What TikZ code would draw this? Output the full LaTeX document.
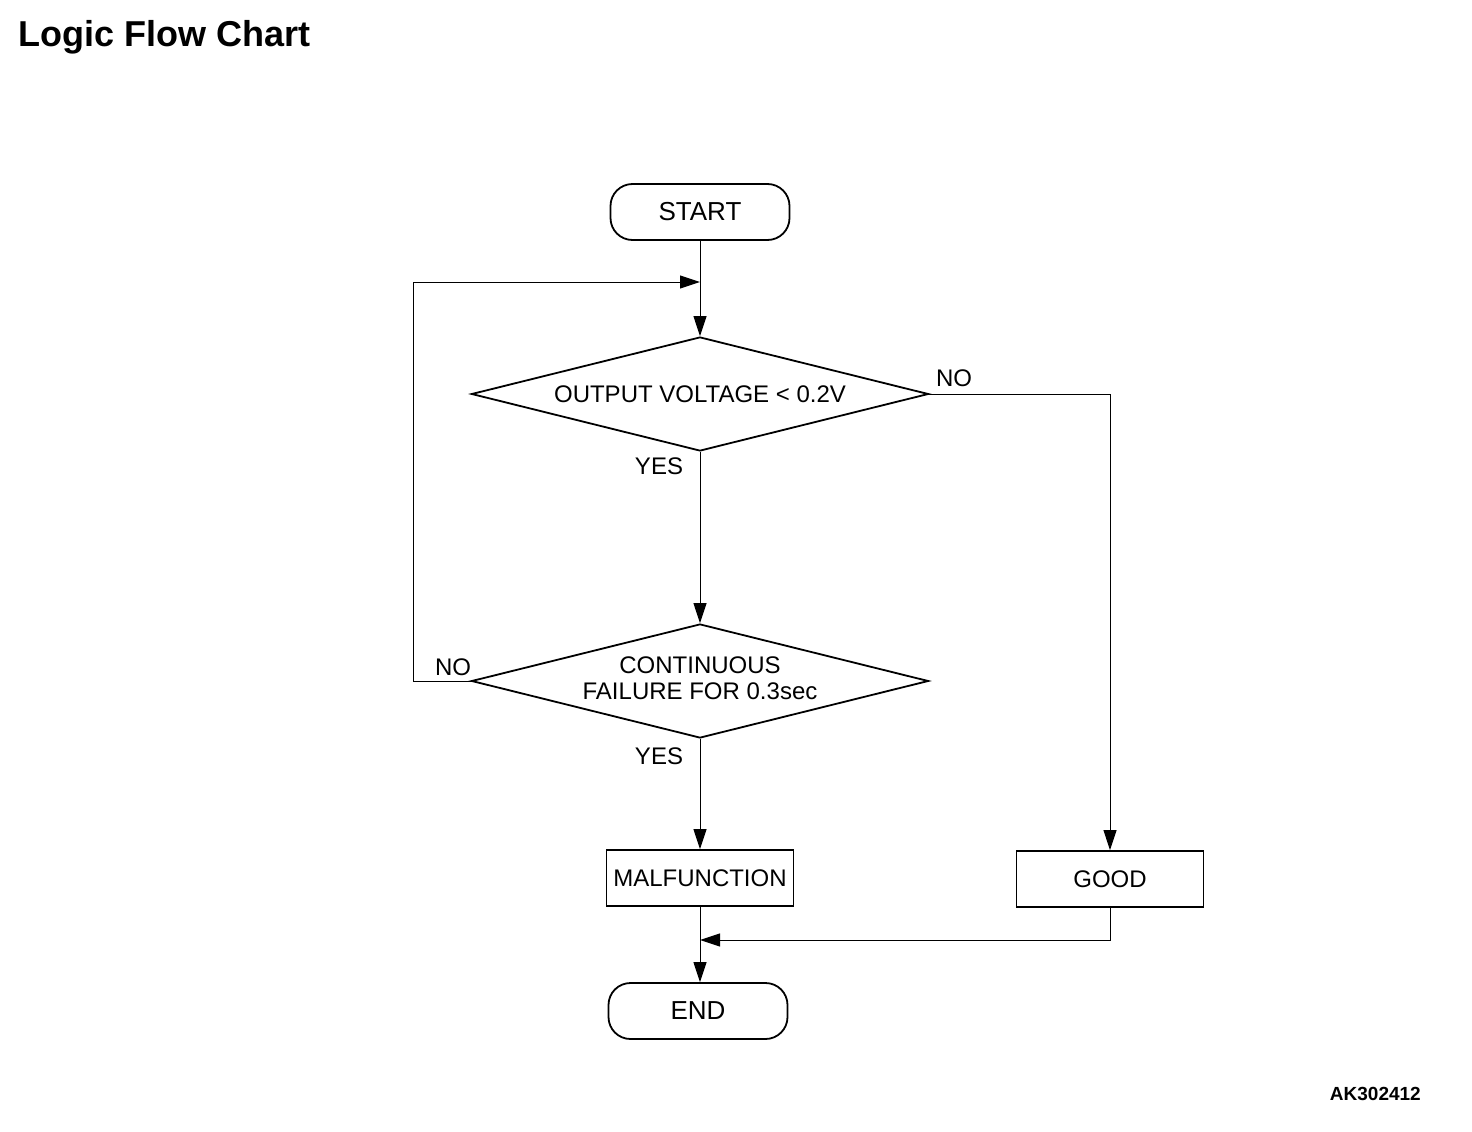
\documentclass[tikz,border=0pt]{standalone}
\usepackage{fontspec}
\setmainfont{Liberation Sans}
\usetikzlibrary{shapes.geometric,arrows.meta}
\begin{document}
\begin{tikzpicture}[x=1pt,y=-1pt,
  base/.style={font=\fontsize{24}{26}\selectfont},
  term/.style={font=\fontsize{26}{28}\selectfont,draw,line width=1.8pt,rounded corners=22pt,minimum width=179pt,minimum height=56pt,inner sep=0pt},
  procbox/.style={base,draw,line width=1.8pt,minimum width=187pt,minimum height=56pt,inner sep=0pt},
  decide/.style={base,draw,line width=1.8pt,diamond,aspect=4,minimum width=457pt,minimum height=114pt,inner sep=0pt,align=center},
  lbl/.style={base},
  conn/.style={line width=1pt},
  arr/.style={conn,-{Triangle[length=20pt,width=13pt]}}]
\useasboundingbox (0,0) rectangle (1472,1132);
\node[anchor=base west,font=\fontsize{36}{40}\selectfont\bfseries,inner sep=0pt] (title) at (18,47) {Logic Flow Chart};
\node[anchor=base east,font=\fontsize{19}{21}\selectfont\bfseries,inner sep=0pt] (code) at (1421,1100) {AK302412};
\node[term] (start) at (700,212) {START};
\node[decide] (d1) at (700,394) {OUTPUT VOLTAGE < 0.2V};
\node[decide,text depth=6pt] (d2) at (700,681) {CONTINUOUS\\FAILURE FOR 0.3sec};
\node[procbox] (mal) at (700,878) {MALFUNCTION};
\node[procbox] (good) at (1110,879) {GOOD};
\node[term] (end) at (698,1011) {END};
\coordinate (j1) at (700,282);
\coordinate (j2) at (700,940);
\node[lbl] (no1) at (954,378) {NO};
\node[lbl] (yes1) at (659,466) {YES};
\node[lbl] (no2) at (453,667) {NO};
\node[lbl] (yes2) at (659,756) {YES};
\draw[arr] (start.south) -- (d1.north);
\draw[arr] (d2.west) -- (413,681) |- (j1);
\draw[arr] (d1.east) -| (good.north);
\draw[arr] (d1.south) -- (d2.north);
\draw[arr] (d2.south) -- (mal.north);
\draw[arr] (mal.south) -- (mal.south |- end.north);
\draw[arr] (good.south) |- (j2);
\end{tikzpicture}
\end{document}
